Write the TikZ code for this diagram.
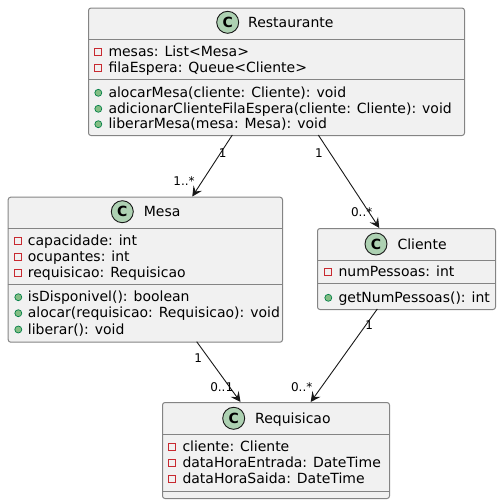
\documentclass[tikz,border=0pt]{standalone}
\usepackage{fontspec}
\setmainfont{DejaVu Sans}
\usetikzlibrary{arrows.meta}
\definecolor{boxfill}{HTML}{F1F1F1}
\definecolor{boxline}{HTML}{848484}
\definecolor{spotfill}{HTML}{ADD1B2}
\definecolor{privred}{HTML}{C82930}
\definecolor{pubfill}{HTML}{84BE84}
\definecolor{publine}{HTML}{038048}
\definecolor{arrowc}{HTML}{181818}
\tikzset{
  classbox/.style={draw=boxline, fill=boxfill, line width=1pt, rounded corners=2.5pt, anchor=north west, inner sep=0pt},
  sepline/.style={draw=boxline, line width=1pt},
  member/.style={anchor=base west, inner sep=0pt, font=\fontsize{14}{16}\selectfont, text=black},
  spot/.style={circle, draw=arrowc, fill=spotfill, minimum size=22pt, inner sep=0pt, line width=0.9pt, font=\fontsize{14}{14}\selectfont\bfseries},
  priv/.style={rectangle, draw=privred, minimum size=7pt, inner sep=0pt, line width=0.9pt},
  pub/.style={circle, draw=publine, fill=pubfill, minimum size=7pt, inner sep=0pt, line width=0.7pt},
  assoc/.style={draw=arrowc, line width=0.9pt, -{Stealth[length=10pt,width=10pt,inset=4pt]}},
  mult/.style={font=\fontsize{12}{12}\selectfont, inner sep=0pt, text=black}
}
\begin{document}
\begin{tikzpicture}[x=1pt,y=-1pt]
\useasboundingbox (0,0) rectangle (501,504);
% ---------- Restaurante
\node[classbox, minimum width=376pt, minimum height=127.5pt] (rest) at (88,7.5) {};
\draw[sepline] (88,39) -- (464,39);
\draw[sepline] (88,79) -- (464,79);
\node[spot] (restC) at (227.7,22.3) {C};
\node[member] (restT) at (248,27.3) {Restaurante};
\node[priv] (r1i) at (98.3,51.5) {};
\node[member] (r1) at (108.3,56) {mesas: List<Mesa>};
\node[priv] (r2i) at (98.3,67.5) {};
\node[member] (r2) at (108.3,72) {filaEspera: Queue<Cliente>};
\node[pub] (r3i) at (98.3,92.8) {};
\node[member] (r3) at (108.3,97.3) {alocarMesa(cliente: Cliente): void};
\node[pub] (r4i) at (98.3,108.8) {};
\node[member] (r4) at (108.3,113.3) {adicionarClienteFilaEspera(cliente: Cliente): void};
\node[pub] (r5i) at (98.3,124.2) {};
\node[member] (r5) at (108.3,128.7) {liberarMesa(mesa: Mesa): void};
% ---------- Mesa
\node[classbox, minimum width=274.3pt, minimum height=145pt] (mesa) at (7.7,196.7) {};
\draw[sepline] (7.7,228) -- (282,228);
\draw[sepline] (7.7,284) -- (282,284);
\node[spot] (mesaC) at (122.3,211.7) {C};
\node[member] (mesaT) at (143.7,216.7) {Mesa};
\node[priv] (m1i) at (18.3,240.5) {};
\node[member] (m1) at (27.7,245) {capacidade: int};
\node[priv] (m2i) at (18.3,257.2) {};
\node[member] (m2) at (27.7,261.7) {ocupantes: int};
\node[priv] (m3i) at (18.3,273.2) {};
\node[member] (m3) at (27.7,277.7) {requisicao: Requisicao};
\node[pub] (m4i) at (18.3,297.2) {};
\node[member] (m4) at (27.7,301.7) {isDisponivel(): boolean};
\node[pub] (m5i) at (18.3,313.2) {};
\node[member] (m5) at (27.7,317.7) {alocar(requisicao: Requisicao): void};
\node[pub] (m6i) at (18.3,329.5) {};
\node[member] (m6) at (27.7,334) {liberar(): void};
% ---------- Cliente
\node[classbox, minimum width=178pt, minimum height=81pt] (cli) at (317,228) {};
\draw[sepline] (317,260.7) -- (495,260.7);
\draw[sepline] (317,283) -- (495,283);
\node[spot] (cliC) at (376,244) {C};
\node[member] (cliT) at (397.3,249) {Cliente};
\node[priv] (c1i) at (328.3,272.2) {};
\node[member] (c1) at (338.3,276.7) {numPessoas: int};
\node[pub] (c2i) at (328.3,297.8) {};
\node[member] (c2) at (338.3,302.3) {getNumPessoas(): int};
% ---------- Requisicao
\node[classbox, minimum width=227pt, minimum height=96pt] (req) at (162,402) {};
\draw[sepline] (162,434) -- (389,434);
\draw[sepline] (162,491) -- (389,491);
\node[spot] (reqC) at (233.7,418.3) {C};
\node[member] (reqT) at (255,423.3) {Requisicao};
\node[priv] (q1i) at (172.3,446.5) {};
\node[member] (q1) at (182.3,451) {cliente: Cliente};
\node[priv] (q2i) at (172.3,462.8) {};
\node[member] (q2) at (182.3,467.3) {dataHoraEntrada: DateTime};
\node[priv] (q3i) at (172.3,478.8) {};
\node[member] (q3) at (182.3,483.3) {dataHoraSaida: DateTime};
% ---------- connector ends
\coordinate (a1s) at (232.3,135);
\coordinate (a1e) at (192.3,196.5);
\coordinate (a2s) at (318.3,135);
\coordinate (a2e) at (379.3,228);
\coordinate (a3s) at (196.7,341.7);
\coordinate (a3e) at (240.5,402);
\coordinate (a4s) at (377.3,309);
\coordinate (a4e) at (310.7,402);
\draw[assoc] (a1s) -- (a1e);
\draw[assoc] (a2s) -- (a2e);
\draw[assoc] (a3s) -- (a3e);
\draw[assoc] (a4s) -- (a4e);
% ---------- multiplicities
\node[mult] (l1) at (222.7,152.7) {1};
\node[mult] (l2) at (184,180.7) {1..*};
\node[mult] (l3) at (319,152.7) {1};
\node[mult] (l4) at (361.7,212.3) {0..*};
\node[mult] (l5) at (198.3,357.7) {1};
\node[mult] (l6) at (221.7,386.7) {0..1};
\node[mult] (l7) at (369.3,325) {1};
\node[mult] (l8) at (301.7,386.7) {0..*};
\end{tikzpicture}
\end{document}
